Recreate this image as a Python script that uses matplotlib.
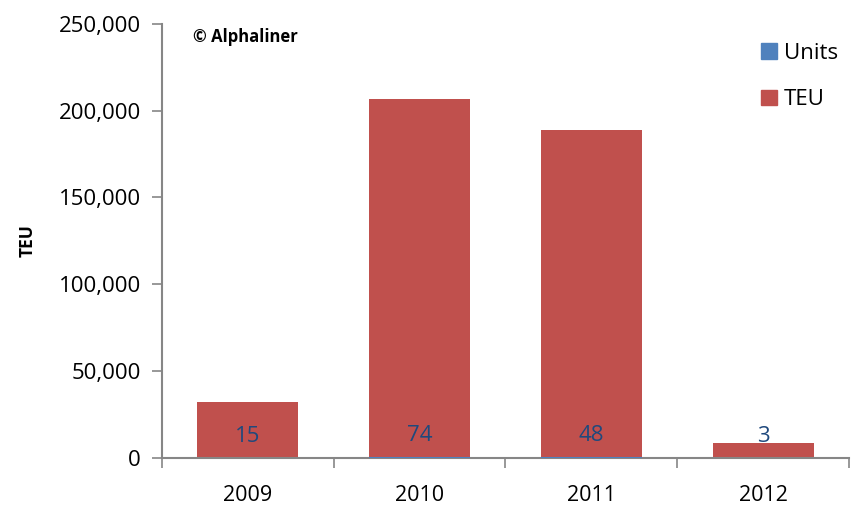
import matplotlib
matplotlib.use("Agg")
import matplotlib.pyplot as plt
from matplotlib.patches import Patch
from matplotlib.ticker import FuncFormatter

years = ["2009", "2010", "2011", "2012"]
teu = [31900, 206800, 188600, 8300]
units = [15, 74, 48, 3]

teu_color = "#C0504D"
units_color = "#4F81BD"
label_color = "#1F497D"
axis_color = "#868686"

plt.rcParams["font.family"] = ["Open Sans", "DejaVu Sans"]

fig = plt.figure(figsize=(8.56, 5.08), dpi=100)
ax = fig.add_axes([0.189, 0.099, 0.803, 0.854])

x = list(range(len(years)))
ax.bar(x, teu, width=0.59, color=teu_color, zorder=2)

ax.set_xlim(-0.5, len(years) - 0.5)
ax.set_ylim(0, 250000)
ax.set_yticks(range(0, 250001, 50000))
ax.yaxis.set_major_formatter(FuncFormatter(lambda v, p: f"{int(v):,}"))
ax.set_xticks(x)
ax.set_xticklabels(years)
ax.set_xticks([i - 0.5 for i in range(len(years) + 1)], minor=True)
ax.tick_params(axis="x", which="major", length=0, pad=20, labelsize=15.5)
ax.tick_params(axis="x", which="minor", length=7, width=1.2, color=axis_color, direction="out")
ax.tick_params(axis="y", length=7, width=1.2, color=axis_color, labelsize=16, pad=8)

for side in ("top", "right"):
    ax.spines[side].set_visible(False)
for side in ("left", "bottom"):
    ax.spines[side].set_color(axis_color)
    ax.spines[side].set_linewidth(1.5)

ax.set_ylabel("TEU", fontsize=12.5, fontweight="bold", labelpad=16)

# Unit counts sit on their own hidden scale; only their labels show
ax2 = ax.twinx()
ub = ax2.bar(x, units, width=0.59, color=units_color, zorder=3)
ax2.set_ylim(0, 100000)
ax2.axis("off")
ax2.bar_label(ub, labels=[str(u) for u in units], padding=8,
              color=label_color, fontsize=16)

ax.text(0.045, 0.99, "© Alphaliner", transform=ax.transAxes,
        fontsize=12, fontweight="bold", ha="left", va="top")

handles = [Patch(color=units_color), Patch(color=teu_color)]
fig.legend(handles, ["Units", "TEU"], loc="upper left",
           bbox_to_anchor=(0.866, 0.955), frameon=False, fontsize=16,
           handlelength=0.7, handleheight=0.7, handletextpad=0.3,
           labelspacing=1.15)

fig.savefig("out.png", dpi=100)
